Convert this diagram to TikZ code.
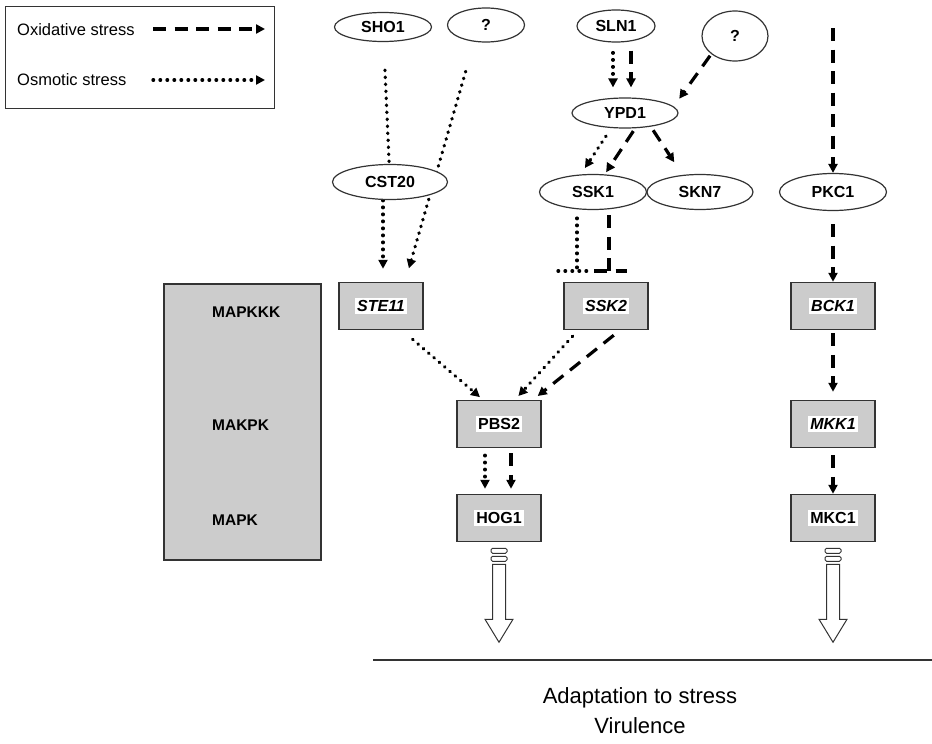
\documentclass[tikz,border=0pt]{standalone}
\usepackage{fontspec}
\setmainfont{Liberation Sans}
\usetikzlibrary{shapes.geometric,arrows.meta,backgrounds}

\definecolor{boxgray}{HTML}{CCCCCC}
\definecolor{edge}{HTML}{333333}

% white label patch inside the kinase boxes
\newcommand\wlab[1]{{\setlength{\fboxsep}{2.5pt}\colorbox{white}{#1}}}

\tikzset{
  gene/.style={ellipse, draw=edge, line width=1.2pt, fill=white, inner sep=0pt,
    font=\fontsize{16}{18}\selectfont\bfseries},
  kinase/.style={rectangle, draw=edge, line width=1.5pt, fill=boxgray,
    minimum width=84pt, minimum height=47pt, inner sep=0pt,
    font=\fontsize{16}{18}\selectfont\bfseries},
  tier/.style={anchor=west, inner sep=0pt, font=\fontsize{15.5}{18}\selectfont\bfseries},
  legtext/.style={anchor=west, inner sep=0pt, font=\fontsize{16.5}{19}\selectfont},
  tipx/.style={-{Triangle[length=9pt,width=9pt]}},
  oxi/.style={line width=3.2pt, dash pattern=on 13pt off 8.5pt, tipx},
  osm/.style={line width=3.3pt, line cap=round, dash pattern=on 0.6pt off 6.4pt, tipx},
  oxibar/.style={line width=3.2pt, dash pattern=on 13pt off 8.5pt},
  osmbar/.style={line width=3.3pt, line cap=round, dash pattern=on 0.6pt off 6.4pt},
  outflow/.pic={
    \draw[line width=1pt, draw=edge, fill=white, rounded corners=1.5pt] (-8,6) rectangle (8,11);
    \draw[line width=1pt, draw=edge, fill=white, rounded corners=1.5pt] (-8,14) rectangle (8,19);
    \draw[line width=1pt, draw=edge, fill=white, line join=miter]
      (-6.5,22) -- (-6.5,77) -- (-14,77) -- (0,100) -- (14,77) -- (6.5,77) -- (6.5,22) -- cycle;
  }
}

\begin{document}
\begin{tikzpicture}[x=1pt, y=-1pt]
\useasboundingbox (0,0) rectangle (932,744);

% legend
\node[draw=edge, line width=1.2pt, minimum width=269pt, minimum height=102pt,
      inner sep=0pt, anchor=north west] (legend) at (5,6) {};
\node[legtext] (oxtext) at (17,30) {Oxidative stress};
\node[legtext] (ostext) at (17,80) {Osmotic stress};
\coordinate (oxa) at (153,29);
\coordinate (oxb) at (265,29);
\coordinate (osa) at (153,80);
\coordinate (osb) at (265,80);
\draw[oxi] (oxa) -- (oxb);
\draw[osm] (osa) -- (osb);

% sensors and adaptors
\node[gene, minimum width=97pt, minimum height=29pt] (SHO1) at (383,27) {SHO1};
\node[gene, minimum width=77pt, minimum height=34pt] (q1) at (486,25) {?};
\node[gene, minimum width=78pt, minimum height=32pt] (SLN1) at (616,26) {SLN1};
\node[gene, minimum width=66pt, minimum height=50pt] (q2) at (735,36) {?};
\node[gene, minimum width=106pt, minimum height=30pt] (YPD1) at (625,113) {YPD1};
\node[gene, minimum width=115pt, minimum height=35pt] (CST20) at (390,182) {CST20};
\node[gene, minimum width=107pt, minimum height=35pt] (SSK1) at (593,192) {SSK1};
\node[gene, minimum width=106pt, minimum height=35pt] (SKN7) at (700,192) {SKN7};
\node[gene, minimum width=107pt, minimum height=37pt] (PKC1) at (833,192) {PKC1};

% kinase tiers
\node[rectangle, draw=edge, line width=1.5pt, fill=boxgray, minimum width=157pt,
      minimum height=276pt, inner sep=0pt, anchor=north west] (tiers) at (163,283) {};
\node[tier] (mapkkk) at (212,312) {MAPKKK};
\node[tier] (makpk) at (212,425) {MAKPK};
\node[tier] (mapk) at (212,520) {MAPK};

\node[kinase] (STE11) at (381,306) {\wlab{\itshape STE11}};
\node[kinase] (SSK2) at (606,306) {\wlab{\itshape SSK2}};
\node[kinase] (BCK1) at (833,306) {\wlab{\itshape BCK1}};
\node[kinase] (PBS2) at (499,424) {\wlab{PBS2}};
\node[kinase] (MKK1) at (833,424) {\wlab{\itshape MKK1}};
\node[kinase] (HOG1) at (499,518) {\wlab{HOG1}};
\node[kinase] (MKC1) at (833,518) {\wlab{MKC1}};

\coordinate (pkctop) at (833,28);
\coordinate (ssk1osm) at (577,271);
\coordinate (ssk1oxi) at (609,271);

\begin{scope}[on background layer]
  % Sho1 branch
  \draw[osmbar, shorten <=28pt] (SHO1) -- (CST20);
  \draw[osm, shorten >=13pt] ([xshift=-7pt]CST20.south) -- ([xshift=2pt]STE11.north);
  \draw[osm, shorten <=30pt, shorten >=14pt] ([xshift=-12pt]q1.south) -- ([xshift=24pt]STE11.north);
  % two-component relay
  \draw[osm, shorten <=10pt, shorten >=10pt] ([xshift=-3pt]SLN1.south) -- ([xshift=-12pt]YPD1.north);
  \draw[oxi, shorten <=8pt, shorten >=10pt] ([xshift=15pt]SLN1.south) -- ([xshift=6pt]YPD1.north);
  \draw[oxi, shorten <=2pt, shorten >=4pt] (q2.south west) -- ([xshift=14pt]YPD1.north east);
  \draw[osm, shorten <=9pt, shorten >=7pt] ([xshift=-14pt]YPD1.south) -- ([xshift=-12pt]SSK1.north);
  \draw[oxi, shorten <=3pt, shorten >=2pt] ([xshift=10pt]YPD1.south) -- ([xshift=12pt]SSK1.north);
  \draw[oxi, shorten <=2pt, shorten >=14pt] ([xshift=27pt]YPD1.south) -- ([xshift=-18pt]SKN7.north);
  % Ssk1 to Ssk2
  \draw[osmbar, shorten <=8pt] ([xshift=-16pt]SSK1.south) -- (ssk1osm);
  \draw[osmbar] ([xshift=-19pt]ssk1osm) -- ([xshift=15pt]ssk1osm);
  \draw[oxibar, shorten <=5pt] ([xshift=16pt]SSK1.south) -- (ssk1oxi);
  \draw[oxibar] ([xshift=-15pt]ssk1oxi) -- ([xshift=18pt]ssk1oxi);
  % HOG pathway
  \draw[osm, shorten <=14pt, shorten >=4pt] ([xshift=21pt]STE11.south) -- ([xshift=-16pt]PBS2.north);
  \draw[osm, shorten <=8pt, shorten >=5pt] ([xshift=-28pt]SSK2.south) -- ([xshift=16pt]PBS2.north);
  \draw[oxi, shorten <=8pt, shorten >=6pt] ([xshift=14pt]SSK2.south) -- ([xshift=34pt]PBS2.north);
  \draw[osm, shorten <=7pt, shorten >=5pt] ([xshift=-14pt]PBS2.south) -- ([xshift=-14pt]HOG1.north);
  \draw[oxi, shorten <=5pt, shorten >=5pt] ([xshift=12pt]PBS2.south) -- ([xshift=12pt]HOG1.north);
  % cell wall integrity pathway
  \draw[oxi] (pkctop) -- (PKC1);
  \draw[oxi, shorten <=13pt] (PKC1) -- (BCK1);
  \draw[oxi, shorten <=3pt, shorten >=8pt] (BCK1) -- (MKK1);
  \draw[oxi, shorten <=7pt] (MKK1) -- (MKC1);
\end{scope}

% outputs
\pic at (HOG1.south) {outflow};
\pic at (MKC1.south) {outflow};

\coordinate (rulel) at (373,660);
\coordinate (ruler) at (932,660);
\draw[line width=1.2pt, edge] (rulel) -- (ruler);

\node[align=center, inner sep=0pt, font=\fontsize{22}{30}\selectfont] (outcome) at (640,711)
  {Adaptation to stress\\Virulence};
\end{tikzpicture}
\end{document}
